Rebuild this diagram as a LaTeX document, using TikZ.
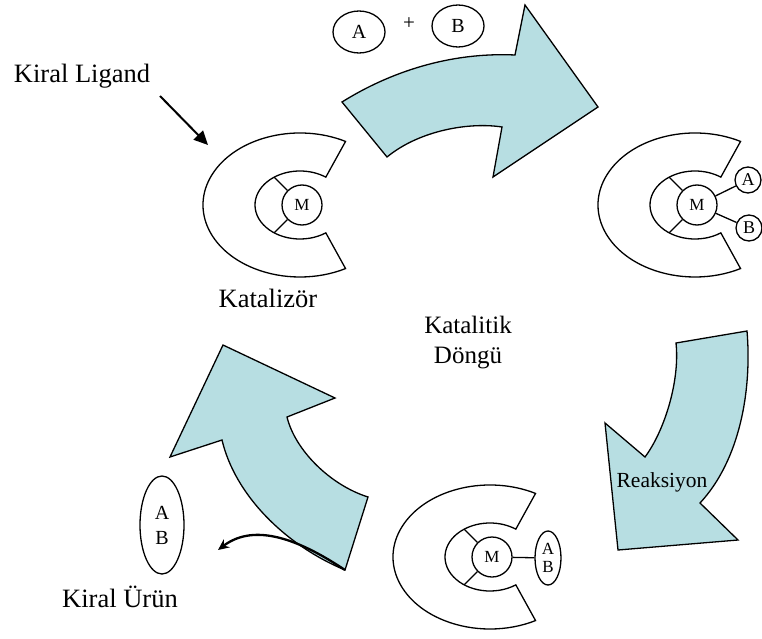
\documentclass[tikz,border=0pt]{standalone}
\usepackage{fontspec}
\setmainfont{Liberation Serif}
\usetikzlibrary{arrows.meta,shapes.geometric}
\definecolor{arrowfill}{RGB}{183,222,226}
\tikzset{
  cline/.style={draw=black, line width=1.3pt, fill=white},
  bigarrow/.style={draw=black, line width=1.3pt, fill=arrowfill, line join=miter},
  bond/.style={line width=1.3pt},
  mcirc/.style={circle, draw, line width=1.3pt, minimum size=40pt, inner sep=0pt, font=\fontsize{17}{17}\selectfont},
  smallcirc/.style={circle, draw, line width=1.3pt, minimum size=26pt, inner sep=0pt, font=\fontsize{18}{18}\selectfont},
  reactant/.style={ellipse, draw, line width=1.3pt, minimum width=52pt, minimum height=42pt, inner sep=0pt, font=\fontsize{20}{20}\selectfont},
  prodell/.style={ellipse, draw, line width=1.3pt, align=center, inner sep=0pt},
  lbl/.style={font=\fontsize{26.5}{30}\selectfont, anchor=base, inner sep=0pt},
  cshape/.pic={
    \path[cline] (62:97pt and 72pt) arc[start angle=62,end angle=298,x radius=97pt,y radius=72pt]
      -- (305:45pt and 34pt) arc[start angle=305,end angle=55,x radius=45pt,y radius=34pt] -- cycle;
    \node[mcirc] (-M) at (2pt,0pt) {M};
    \coordinate (-s1) at (125:45pt and 34pt);
    \coordinate (-s2) at (235:45pt and 34pt);
    \draw[bond] (-s1) -- (-M);
    \draw[bond] (-s2) -- (-M);
  }
}
\begin{document}
\begin{tikzpicture}[x=1pt,y=1pt]
\useasboundingbox (0,0) rectangle (762,-639);

% big arrows
\path[bigarrow] (342,-102) .. controls (390,-72) and (450,-52) .. (515,-55) -- (525,-5) -- (598,-107)
  -- (493,-177) -- (502,-127) .. controls (470,-122) and (420,-130) .. (387,-157) -- cycle;
\path[bigarrow] (676,-343) -- (747,-331) .. controls (752,-390) and (740,-460) .. (700,-503)
  -- (738,-540) -- (618,-550) -- (605,-423) -- (645,-457) .. controls (665,-430) and (680,-380) .. (676,-343) -- cycle;
\path[bigarrow] (223,-345) -- (335,-398) -- (287,-417) .. controls (295,-450) and (330,-485) .. (368,-497)
  -- (345,-570) .. controls (285,-545) and (235,-495) .. (222,-440) -- (170,-457) -- cycle;

% catalyst shapes
\pic (c1) at (300,-205) {cshape};
\pic (c2) at (695,-205) {cshape};
\pic (c3) at (490,-557) {cshape};

% reactants
\node[reactant] (ra) at (359,-32) {A};
\node[font=\fontsize{21}{21}\selectfont, inner sep=0pt] (plus) at (409,-24) {+};
\node[reactant] (rb) at (458,-26) {B};

% complex with A and B
\node[smallcirc] (a2) at (748,-180) {A};
\node[smallcirc] (b2) at (749,-228) {B};
\draw[bond] (c2-M) -- (a2);
\draw[bond] (c2-M) -- (b2);

% complex with AB
\node[prodell, minimum width=26pt, minimum height=54pt, font=\fontsize{17}{18}\selectfont] (ab3) at (548,-558) {A\\B};
\draw[bond] (c3-M) -- (ab3);

% free product
\node[prodell, minimum width=44pt, minimum height=98pt, font=\fontsize{20}{25}\selectfont] (prod) at (162,-525) {A\\B};

% labels
\node[lbl] (ligand) at (82,-83) {Kiral Ligand};
\node[lbl] (katalizor) at (268,-307) {Katalizör};
\node[lbl] (urun) at (120,-607) {Kiral Ürün};
\node[lbl, font=\fontsize{21.5}{24}\selectfont] (reaksiyon) at (662,-487) {Reaksiyon};
\node[font=\fontsize{25}{30}\selectfont, align=center, inner sep=0pt] (dongu) at (468,-343) {Katalitik\\Döngü};

% small arrows
\coordinate (lgs) at (160,-96);
\coordinate (lge) at (208,-145);
\draw[line width=2pt, -{Triangle[length=14pt,width=13pt]}] (lgs) -- (lge);
\coordinate (ps) at (345,-570);
\coordinate (pe) at (218,-550);
\draw[line width=2.3pt, -{Stealth[length=11pt,width=10pt]}] (ps) .. controls (300,-540) and (255,-522) .. (pe);
\end{tikzpicture}
\end{document}
